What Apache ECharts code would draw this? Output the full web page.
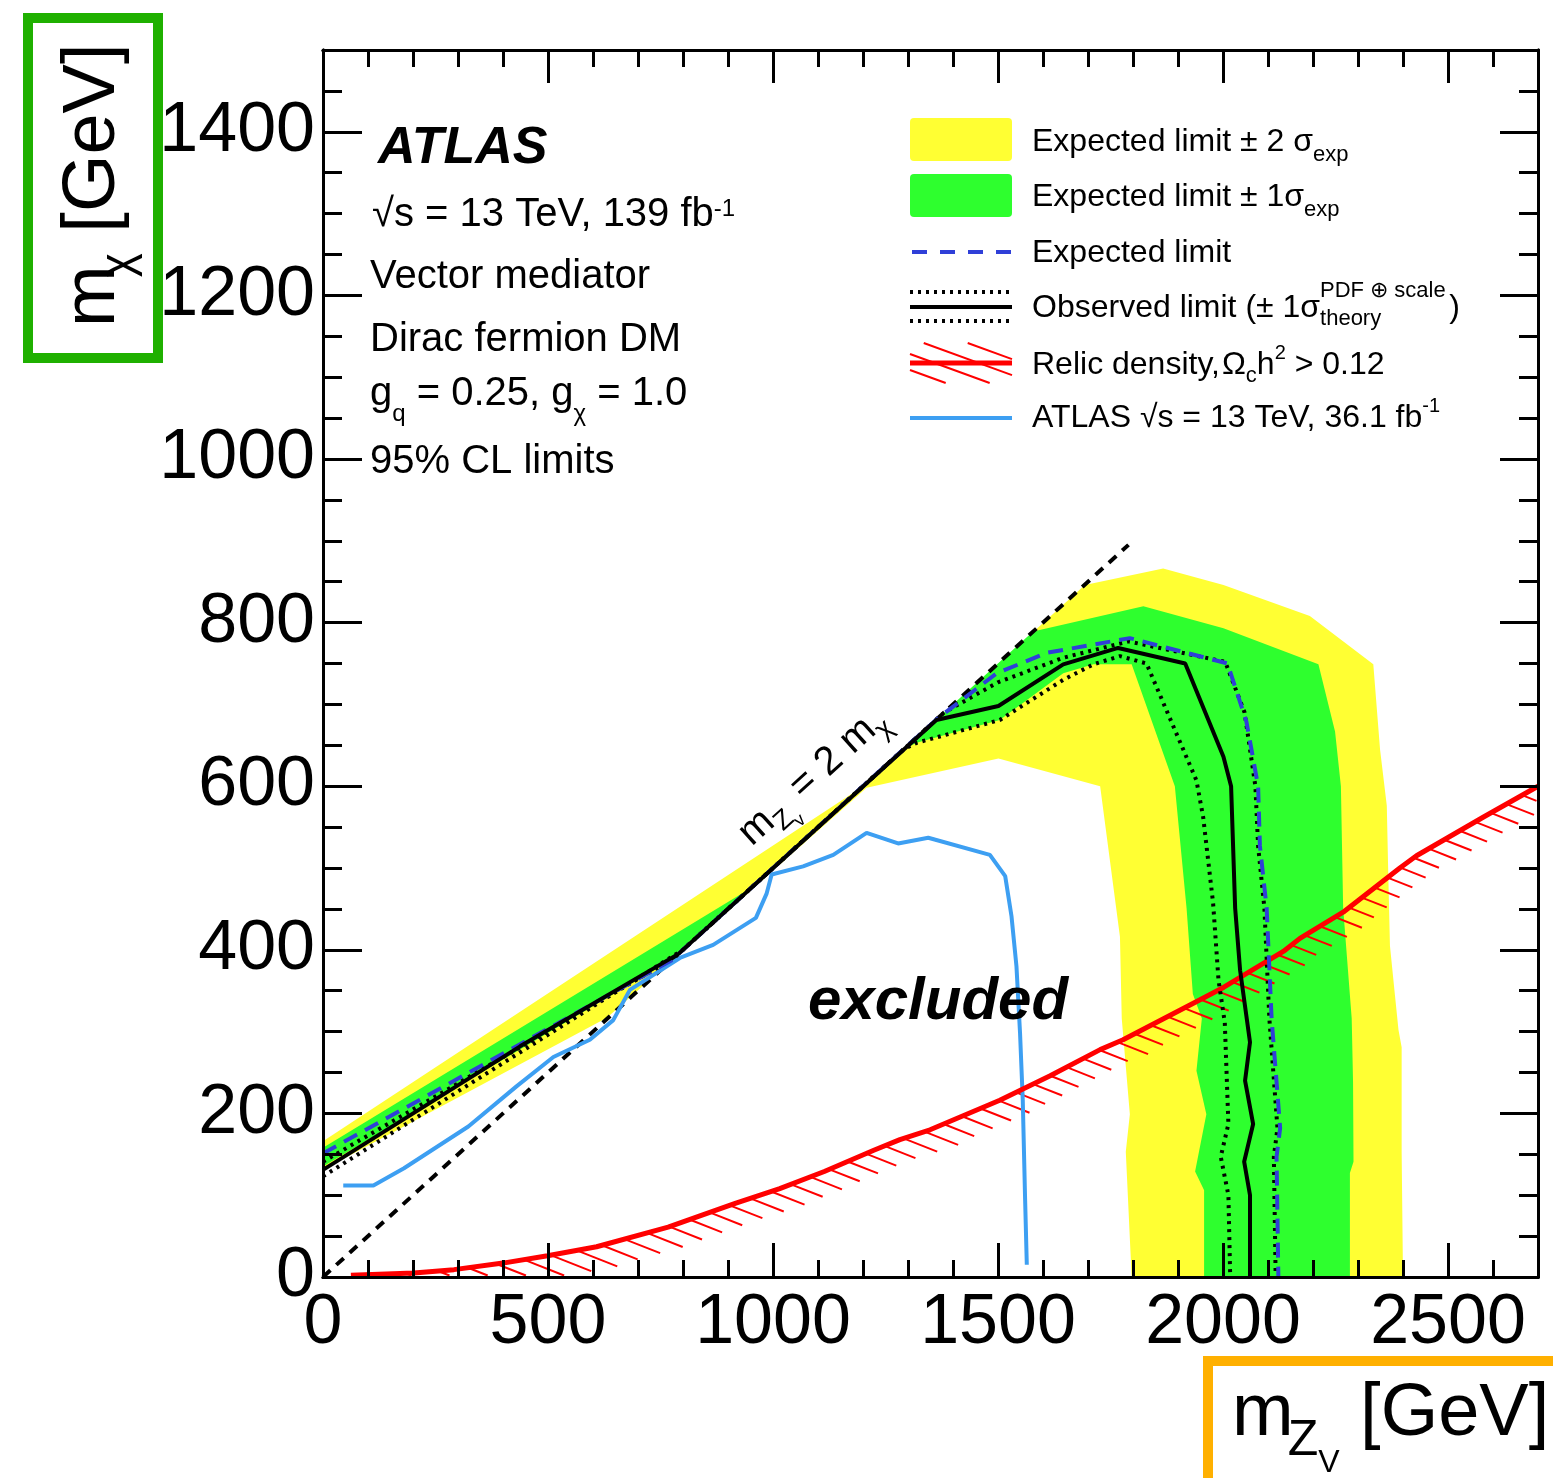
<!DOCTYPE html>
<html><head><meta charset="utf-8">
<script src="https://cdn.jsdelivr.net/npm/echarts@6/dist/echarts.min.js"></script>
<style>html,body{margin:0;padding:0;background:#fff}#c{width:1553px;height:1478px}</style>
</head><body><div id="c"></div>
<script>
// ---------------- data (GeV) ----------------
const xTickInterval = 500, yTickInterval = 200;
const yellowBand = [[0,166],[1203,601],[1693,846],[1867,866],[2001,846],[2193,808],[2334,749],[2349,645],[2364,576],[2367,499],[2371,405],[2382,345],[2390,302],[2397,281],[2397,153],[2400,0],
  [1797,0],[1784,153],[1793,199],[1775,316],[1771,416],[1727,600],[1501,634],[1208,598],[734,367],[631,317],[0,131]];
const greenBand = [[0,158],[952,476],[1578,789],[1823,820],[2001,793],[2212,749],[2249,667],[2262,600],[2267,451],[2286,316],[2289,238],[2290,141],[2282,127],[2282,0],
  [1958,0],[1958,106],[1938,129],[1963,199],[1941,252],[1953,316],[1933,346],[1919,451],[1893,600],[1797,749],[1712,749],[1645,738],[1504,681],[1319,653],[1290,645],[780,390],[0,135]];
const expectedLimit = [[0,151],[616,339],[774,387],[1364,682],[1497,738],[1608,763],[1793,781],[2010,750],[2052,679],[2078,600],[2082,527],[2097,451],[2108,316],[2127,182],[2119,147],[2123,0]];
const observedLimit = [[0,131],[438,282],[790,395],[1363,681],[1501,698],[1645,749],[1767,769],[1916,750],[2001,636],[2018,600],[2027,451],[2038,375],[2060,287],[2049,240],[2067,187],[2047,141],[2060,100],[2060,0]];
const observedUp = [[0,141],[780,390],[1380,690],[1500,727],[1645,757],[1790,777],[2005,752],[2048,690],[2072,600],[2078,527],[2092,451],[2103,316],[2121,182],[2113,147],[2117,0]];
const observedDown = [[0,123],[800,400],[1290,645],[1319,653],[1504,681],[1645,730],[1712,749],[1771,759],[1830,750],[1941,607],[1956,562],[1978,457],[1990,363],[2004,311],[2012,187],[1995,147],[2012,100],[2016,0]];
const atlas36 = [[45,112],[112,112],[180,133],[323,184],[430,233],[512,269],[593,290],[645,314],[682,351],[793,390],[867,406],[962,439],[986,469],[997,492],[1067,502],[1134,516],[1208,543],[1278,530],[1345,537],[1482,516],[1516,490],[1530,441],[1541,380],[1549,298],[1555,217],[1560,100],[1564,15]];
const relicLine = [[62,2],[202,5],[291,9],[400,17],[499,26],[608,37],[767,61],[916,90],[1015,108],[1114,129],[1224,155],[1282,168],[1349,180],[1504,216],[1616,246],[1727,278],[1778,290],[1949,339],[2001,354],[2134,398],[2171,414],[2267,446],[2393,500],[2430,515],[2578,562],[2700,600]];
const diagonal = [[0,0],[1790,895]];

// ---------------- style ----------------
const FF = "'Liberation Sans', Arial, Helvetica, sans-serif";
const YEL = '#ffff33', GRN = '#2eff2e', BLUE = '#2f3fd8', LBLUE = '#3d9ff2', RED = '#ff0000';
const mctx = document.createElement('canvas').getContext('2d');
function fontStr(p){ return (p.i?'italic ':'') + (p.b?'bold ':'') + p.s + 'px ' + FF; }
function run(x, y, pieces, rot, color){
  let cx = 0; const children = [];
  for (const p of pieces){
    const f = fontStr(p); mctx.font = f;
    const w = mctx.measureText(p.t).width;
    cx += (p.dx||0);
    children.push({type:'text', x:cx, y:(p.dy||0) - 0.32*p.s, z:100,
      style:{text:p.t, font:f, fill:color||'#000', align:'left', verticalAlign:'middle', textAlign:'left', textVerticalAlign:'middle'}});
    if (!p.na) cx += w;
  }
  return {type:'group', x:x, y:y, rotation:rot||0, z:100, children:children};
}
function polySeries(pts, color, z){
  return {type:'custom', xAxisIndex:0, yAxisIndex:0, z:z, silent:true, data:pts,
    renderItem:function(params, api){
      if (params.dataIndex !== 0) return null;
      return {type:'polygon', shape:{points: pts.map(p=>api.coord(p))}, style:{fill:color, stroke:null}};
    }};
}
function lineSeries(pts, color, width, type, z){
  return {type:'line', xAxisIndex:0, yAxisIndex:0, data:pts, symbol:'none', z:z||3, silent:true,
    lineStyle:{color:color, width:width, type:type||'solid', cap:'butt'}};
}
const hatchSeries = {type:'custom', xAxisIndex:0, yAxisIndex:0, z:3, silent:true, data:relicLine,
  renderItem:function(params, api){
    if (params.dataIndex !== 0) return null;
    const P = relicLine.map(p=>api.coord(p));
    const cs = params.coordSys; const bottom = cs.y + cs.height, right = cs.x + cs.width;
    const th = 21.5*Math.PI/180, u=[Math.cos(th), Math.sin(th)], n=[Math.sin(th), -Math.cos(th)];
    const d = 14, w = 23; const ch = [];
    for (let i=1;i<P.length;i++){
      const a=P[i-1], b=P[i];
      const pa=a[0]*n[0]+a[1]*n[1], pb=b[0]*n[0]+b[1]*n[1];
      const lo=Math.min(pa,pb), hi=Math.max(pa,pb);
      const tx=b[0]-a[0], ty=b[1]-a[1], tl=Math.hypot(tx,ty);
      const sinA=Math.abs((tx*u[1]-ty*u[0])/tl);
      for (let k=Math.ceil(lo/d); k*d<hi; k++){
        const t=(k*d-pa)/(pb-pa); const x=a[0]+t*tx, y=a[1]+t*ty;
        let L = w/sinA;
        L = Math.min(L, (bottom-1.5-y)/u[1], (right-1.5-x)/u[0]);
        if (L<=0) continue;
        ch.push({type:'line', shape:{x1:x,y1:y,x2:x+L*u[0],y2:y+L*u[1]}, style:{stroke:RED, lineWidth:2}});
      }
    }
    return {type:'group', children:ch};
  }};

// ---------------- axes ----------------
const G = {left:323, top:50, width:1215, height:1227, show:false};
const plain = v => String(v);
function xA(grid, pos, interval, len, labels){
  return {gridIndex:grid, type:'value', min:0, max:2700, interval:interval, position:pos, z:6,
    axisLine:{show:true, onZero:false, lineStyle:{color:'#000', width:3}},
    axisTick:{show:true, inside:true, length:len, lineStyle:{color:'#000', width:3}},
    axisLabel: labels ? {show:true, fontSize:70, fontFamily:FF, color:'#000', margin:12, showMaxLabel:false, formatter:plain} : {show:false},
    splitLine:{show:false}};
}
function yA(grid, pos, interval, len, labels){
  return {gridIndex:grid, type:'value', min:0, max:1500, interval:interval, position:pos, z:6,
    axisLine:{show:true, onZero:false, lineStyle:{color:'#000', width:3}},
    axisTick:{show:true, inside:true, length:len, lineStyle:{color:'#000', width:3}},
    axisLabel: labels ? {show:true, fontSize:70, fontFamily:FF, color:'#000', margin:8, showMaxLabel:false, formatter:plain} : {show:false},
    splitLine:{show:false}};
}

// ---------------- legend graphics ----------------
const LX0 = 910, LX1 = 1012, TX = 1032;
const legendHatch = [];
[322,338,354,370].forEach(b=>{
  const sl = 0.364;
  const xs = Math.max(LX0, LX0 + (343-b)/sl), xe = Math.min(LX1, LX0 + (383-b)/sl);
  if (xe>xs) legendHatch.push({type:'line', z:100, shape:{x1:xs, y1:b+sl*(xs-LX0), x2:xe, y2:b+sl*(xe-LX0)}, style:{stroke:RED, lineWidth:2}});
});
const graphics = [
  {type:'rect', z:100, shape:{x:28, y:18, width:130, height:340}, style:{fill:'none', stroke:'#1fb000', lineWidth:10}},
  {type:'rect', z:100, shape:{x:1208, y:1361, width:400, height:200}, style:{fill:'none', stroke:'#ffb000', lineWidth:10}},
  // legend symbols
  {type:'rect', z:100, shape:{x:LX0, y:118, width:LX1-LX0, height:43, r:4}, style:{fill:YEL}},
  {type:'rect', z:100, shape:{x:LX0, y:174, width:LX1-LX0, height:43, r:4}, style:{fill:GRN}},
  {type:'line', z:100, shape:{x1:LX0+2, y1:252, x2:LX1, y2:252}, style:{stroke:BLUE, lineWidth:4, lineDash:[15,13]}},
  {type:'line', z:100, shape:{x1:LX0, y1:292, x2:LX1, y2:292}, style:{stroke:'#000', lineWidth:4, lineDash:[3,5]}},
  {type:'line', z:100, shape:{x1:LX0, y1:307, x2:LX1, y2:307}, style:{stroke:'#000', lineWidth:4}},
  {type:'line', z:100, shape:{x1:LX0, y1:321, x2:LX1, y2:321}, style:{stroke:'#000', lineWidth:4, lineDash:[3,5]}},
  {type:'line', z:100, shape:{x1:LX0, y1:363, x2:LX1, y2:363}, style:{stroke:RED, lineWidth:5}},
  {type:'line', z:100, shape:{x1:LX0, y1:418, x2:LX1, y2:418}, style:{stroke:LBLUE, lineWidth:4}},
  ...legendHatch,
  // legend texts
  run(TX, 152, [{t:'Expected limit ± 2 σ', s:32},{t:'exp', s:22, dy:10}]),
  run(TX, 207, [{t:'Expected limit ± 1σ', s:32},{t:'exp', s:22, dy:10}]),
  run(TX, 263, [{t:'Expected limit', s:32}]),
  run(TX, 318, [{t:'Observed limit (± 1σ', s:32},{t:'PDF ⊕ scale', s:22, dy:-20, na:true},{t:'theory', s:22, dy:8},{t:'', s:22, dx:68},{t:')', s:32}]),
  run(TX, 375, [{t:'Relic density,', s:32},{t:'Ω', s:32, dx:2},{t:'c', s:22, dy:8},{t:'h', s:32},{t:'2', s:20, dy:-15},{t:' > 0.12', s:32}]),
  run(TX, 428, [{t:'ATLAS √s = 13 TeV, 36.1 fb', s:32},{t:'-1', s:20, dy:-15}]),
  // info block
  run(378, 165, [{t:'ATLAS', s:52, b:true, i:true}]),
  run(372, 228, [{t:'√s = 13 TeV, 139 fb', s:40},{t:'-1', s:24, dy:-11}]),
  run(370, 290, [{t:'Vector mediator', s:40}]),
  run(370, 353, [{t:'Dirac fermion DM', s:40}]),
  run(370, 407, [{t:'g', s:40},{t:'q', s:24, dy:15},{t:' = 0.25, g', s:40},{t:'χ', s:24, dy:15},{t:' = 1.0', s:40}]),
  run(370, 475, [{t:'95% CL limits', s:40}]),
  run(808, 1022, [{t:'excluded', s:60, b:true, i:true}]),
  run(753, 848, [{t:'m', s:40},{t:'Z', s:27, dy:9},{t:'v', s:18, dy:17, dx:-1},{t:' = 2 m', s:40},{t:'χ', s:27, dy:9}], 0.737),
  // axis titles
  run(1232, 1438, [{t:'m', s:74},{t:'Z', s:50, dy:19, dx:-6},{t:'V', s:32, dy:35},{t:' [GeV]', s:74}]),
  run(117, 327, [{t:'m', s:74},{t:'χ', s:46, dy:17, dx:-12},{t:' [GeV]', s:74}], Math.PI/2)
];

const option = {
  animation:false, backgroundColor:'#fff',
  grid:[G, Object.assign({}, G)],
  xAxis:[xA(0,'bottom',xTickInterval,34,true), xA(0,'top',xTickInterval,33,false), xA(1,'bottom',100,17,false), xA(1,'top',100,17,false)],
  yAxis:[yA(0,'left',yTickInterval,39,true), yA(0,'right',yTickInterval,38,false), yA(1,'left',50,19,false), yA(1,'right',50,19,false)],
  series:[
    polySeries(yellowBand, YEL, 1),
    polySeries(greenBand, GRN, 2),
    lineSeries(diagonal, '#000', 4, [10,8], 3),
    lineSeries(atlas36, LBLUE, 4, 'solid', 3),
    hatchSeries,
    lineSeries(relicLine, RED, 5, 'solid', 3),
    lineSeries(observedDown, '#000', 4, [3,5], 4),
    lineSeries(observedUp, '#000', 4, [3,5], 4),
    lineSeries(expectedLimit, BLUE, 4, [15,9], 4),
    lineSeries(observedLimit, '#000', 4, 'solid', 4)
  ],
  graphic: graphics
};
const chart = echarts.init(document.getElementById('c'), null, {renderer:'canvas'});
chart.setOption(option);
</script></body></html>
